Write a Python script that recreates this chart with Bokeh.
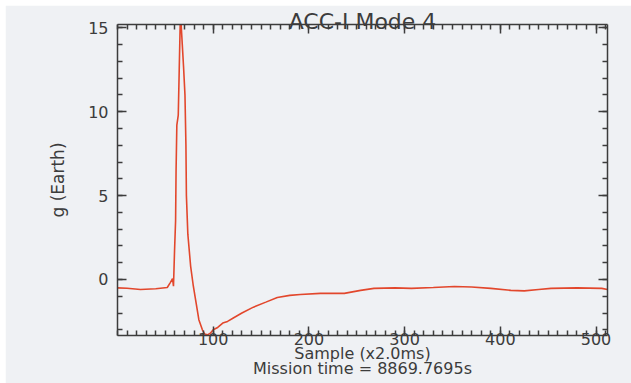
from bokeh.plotting import figure
from bokeh.models import LinearAxis, FixedTicker, Range1d
from bokeh.embed import file_html
from bokeh.resources import INLINE

# ---- data ----
sample = [0, 10, 24, 40, 52, 55, 56.5, 57.5, 58.5, 59.6, 60.7, 61.2, 62.0, 63.5,
          64.5, 65.5, 66.5, 67.7, 69.0, 70.5, 71.5, 72.0, 73.5, 76.4, 79.0, 81.7,
          85.0, 88.7, 91.0, 94.0, 97.0, 100, 104.7, 110, 115, 121, 130, 142, 155,
          167, 180, 191, 212, 237, 254, 268, 290, 307, 330, 352, 370, 390, 411,
          425, 440, 453, 480, 506, 512]
g_earth = [-0.5, -0.52, -0.6, -0.55, -0.48, -0.2, -0.05, 0.05, -0.4, 1.7, 3.5,
           6.5, 9.2, 9.8, 12.5, 15.2, 15.2, 14.0, 12.7, 11.0, 8.0, 5.0, 2.7, 0.8,
           -0.3, -1.25, -2.4, -3.0, -3.25, -3.3, -3.2, -3.0, -2.86, -2.6, -2.5,
           -2.3, -2.0, -1.65, -1.35, -1.07, -0.95, -0.9, -0.83, -0.83, -0.65,
           -0.53, -0.5, -0.53, -0.48, -0.42, -0.45, -0.53, -0.65, -0.68, -0.6,
           -0.53, -0.5, -0.53, -0.6]

x_major = [100, 200, 300, 400, 500]
x_minor = list(range(0, 520, 10))
y_major = [0, 5, 10, 15]
y_minor = list(range(-3, 16))

title_text = "ACC-I Mode 4"
xlabel_text = "Sample (x2.0ms)"
mission_text = "Mission time = 8869.7695s"
ylabel_text = "g (Earth)"

BG = "#eff1f4"
INK = "#3c3c3c"
FONT = "DejaVu Sans"

p = figure(width=626, height=378, output_backend="svg",
           toolbar_location=None, x_axis_location=None, y_axis_location=None,
           x_range=Range1d(0, 512), y_range=Range1d(-3.34, 15.2),
           min_border_left=112, min_border_right=24, min_border_top=19,
           min_border_bottom=48, background_fill_color=BG, border_fill_color=BG,
           outline_line_color=None)
p.margin = (5, 0, 0, 5)
p.grid.visible = False


def make_axis(ticks, minor, show_labels):
    ax = LinearAxis(ticker=FixedTicker(ticks=ticks, minor_ticks=minor))
    ax.axis_line_color = INK
    ax.axis_line_width = 1.5
    ax.major_tick_in = 9
    ax.major_tick_out = 0
    ax.minor_tick_in = 5
    ax.minor_tick_out = 0
    ax.major_tick_line_color = INK
    ax.minor_tick_line_color = INK
    ax.major_tick_line_width = 1.5
    ax.minor_tick_line_width = 1.5
    ax.major_label_text_font = FONT
    ax.major_label_text_color = INK
    ax.major_label_text_font_size = "16px"
    ax.axis_label_text_font = FONT
    ax.axis_label_text_color = INK
    ax.axis_label_text_font_style = "normal"
    if not show_labels:
        ax.major_label_overrides = {t: "" for t in ticks}
        ax.major_label_standoff = 0
    return ax


# bottom axis with tick labels and first label line
xb = make_axis(x_major, x_minor, True)
xb.major_label_standoff = -3
xb.axis_label = xlabel_text
xb.axis_label_text_font_size = "16px"
xb.axis_label_standoff = -4
p.add_layout(xb, "below")

# second line under the x axis: a bare axis carrying only its label
x2 = LinearAxis(ticker=FixedTicker(ticks=[], minor_ticks=[]))
x2.axis_line_color = None
x2.major_tick_line_color = None
x2.minor_tick_line_color = None
x2.major_tick_in = 0
x2.major_tick_out = 0
x2.minor_tick_in = 0
x2.minor_tick_out = 0
x2.major_label_standoff = 0
x2.axis_label = mission_text
x2.axis_label_text_font = FONT
x2.axis_label_text_color = INK
x2.axis_label_text_font_style = "normal"
x2.axis_label_text_font_size = "16px"
x2.axis_label_standoff = -7
p.add_layout(x2, "below")

yl = make_axis(y_major, y_minor, True)
yl.major_label_standoff = 9
yl.axis_label = ylabel_text
yl.axis_label_text_font_size = "17px"
yl.axis_label_standoff = 17
p.add_layout(yl, "left")

xt = make_axis(x_major, x_minor, False)
xt.axis_label = title_text
xt.axis_label_text_font_size = "22px"
xt.axis_label_text_line_height = 0.8
xt.axis_label_standoff = -9
p.add_layout(xt, "above")

p.add_layout(make_axis(y_major, y_minor, False), "right")

p.line(sample, g_earth, line_color="#e2472c", line_width=1.6)

open("out.html", "w").write(file_html(p, INLINE))
